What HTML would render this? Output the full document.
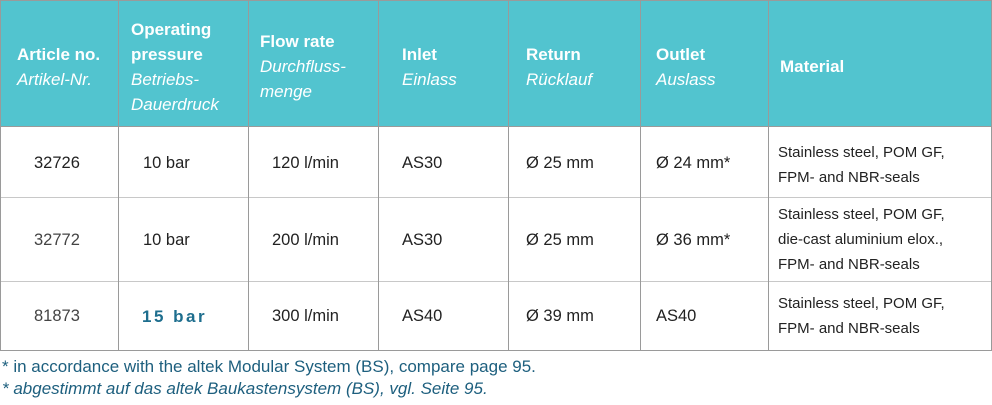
<!DOCTYPE html>
<html><head><meta charset="utf-8"><style>
body{margin:0;width:992px;height:405px;background:#fff;font-family:"Liberation Sans",sans-serif;overflow:hidden;position:relative}
.hdr{position:absolute;left:0;top:0;width:992px;height:126px;background:#52c4cf}
.v{position:absolute;width:1px;background:#9a9a9a;top:0;height:351px}
.h{position:absolute;left:0;width:992px;height:1px;background:#9a9a9a}
.t{position:absolute;font-size:16.5px;color:#222;white-space:nowrap;line-height:25px}
.hd{position:absolute;font-size:17px;color:#fff;line-height:25px;white-space:nowrap}
.hd b{font-weight:bold}.hd i{font-style:italic;font-weight:normal}
.foot{position:absolute;left:2px;font-size:17px;color:#1d5f7e;white-space:nowrap}
</style></head><body>
<div class="hdr"></div>
<div class="h" style="top:0"></div>
<div class="h" style="top:126px"></div>
<div class="h" style="top:197px;background:#c8c8c8"></div>
<div class="h" style="top:281px;background:#c8c8c8"></div>
<div class="h" style="top:350px"></div>
<div class="v" style="left:0"></div>
<div class="v" style="left:118px"></div>
<div class="v" style="left:248px"></div>
<div class="v" style="left:378px"></div>
<div class="v" style="left:508px"></div>
<div class="v" style="left:640px"></div>
<div class="v" style="left:768px"></div>
<div class="v" style="left:991px"></div>

<div class="hd" style="left:17px;top:42px"><b>Article no.</b><br><i>Artikel-Nr.</i></div>
<div class="hd" style="left:131px;top:17px"><b>Operating</b><br><b>pressure</b><br><i>Betriebs-</i><br><i>Dauerdruck</i></div>
<div class="hd" style="left:260px;top:29px"><b>Flow rate</b><br><i>Durchfluss-</i><br><i>menge</i></div>
<div class="hd" style="left:402px;top:42px"><b>Inlet</b><br><i>Einlass</i></div>
<div class="hd" style="left:526px;top:42px"><b>Return</b><br><i>Rücklauf</i></div>
<div class="hd" style="left:656px;top:42px"><b>Outlet</b><br><i>Auslass</i></div>
<div class="hd" style="left:780px;top:54px"><b>Material</b></div>

<div class="t" style="left:34px;top:151px">32726</div>
<div class="t" style="left:143px;top:151px">10 bar</div>
<div class="t" style="left:272px;top:151px">120 l/min</div>
<div class="t" style="left:402px;top:151px">AS30</div>
<div class="t" style="left:526px;top:151px">Ø 25 mm</div>
<div class="t" style="left:656px;top:151px">Ø 24 mm*</div>
<div class="t" style="left:778px;top:140px;font-size:15px">Stainless steel, POM GF,<br>FPM- and NBR-seals</div>

<div class="t" style="left:34px;top:228px;color:#444">32772</div>
<div class="t" style="left:143px;top:228px">10 bar</div>
<div class="t" style="left:272px;top:228px">200 l/min</div>
<div class="t" style="left:402px;top:228px">AS30</div>
<div class="t" style="left:526px;top:228px">Ø 25 mm</div>
<div class="t" style="left:656px;top:228px">Ø 36 mm*</div>
<div class="t" style="left:778px;top:202px;font-size:15px">Stainless steel, POM GF,<br>die-cast aluminium elox.,<br>FPM- and NBR-seals</div>

<div class="t" style="left:34px;top:304px;color:#444">81873</div>
<div class="t" style="left:142px;top:304px;color:#1e6e8e;font-weight:bold;font-size:17px;letter-spacing:2.5px">15 bar</div>
<div class="t" style="left:272px;top:304px">300 l/min</div>
<div class="t" style="left:402px;top:304px">AS40</div>
<div class="t" style="left:526px;top:304px">Ø 39 mm</div>
<div class="t" style="left:656px;top:304px">AS40</div>
<div class="t" style="left:778px;top:291px;font-size:15px">Stainless steel, POM GF,<br>FPM- and NBR-seals</div>

<div class="foot" style="top:357px">* in accordance with the altek Modular System (BS), compare page 95.</div>
<div class="foot" style="top:379px;font-style:italic">* abgestimmt auf das altek Baukastensystem (BS), vgl. Seite 95.</div>
</body></html>
